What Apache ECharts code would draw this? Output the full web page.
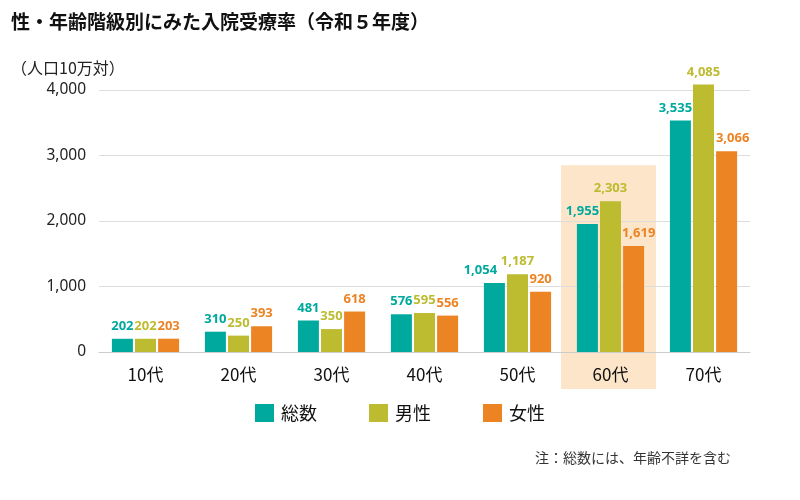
<!DOCTYPE html>
<html>
<head>
<meta charset="utf-8">
<script src="https://cdn.jsdelivr.net/npm/echarts@6/dist/echarts.min.js"></script>
<style>
  html, body { margin: 0; padding: 0; background: #fff; }
  #chart { width: 800px; height: 500px; }
</style>
</head>
<body>
<div id="chart"></div>
<script>
const categories = ['10代', '20代', '30代', '40代', '50代', '60代', '70代'];
const totalValues = [202, 310, 481, 576, 1054, 1955, 3535];
const maleValues = [202, 250, 350, 595, 1187, 2303, 4085];
const femaleValues = [203, 393, 618, 556, 920, 1619, 3066];
const yTicks = [0, 1000, 2000, 3000, 4000];
const highlightCategory = '60代';
const highlightTop = 2850;

const tealColor = '#00A99D';
const oliveColor = '#BDBB30';
const orangeColor = '#EC8424';
const jpFont = '"Noto Sans CJK JP", "Noto Sans", sans-serif';

// sideways nudges of crowded value labels (px), by category index
const labelShift = {
  '総数': { 4: -14, 5: -5, 6: -5 },
  '女性': { 5: 5, 6: 6 }
};

function fmt(v) {
  return v.toLocaleString('en-US');
}

function barSeries(name, data, color) {
  var shifts = labelShift[name] || {};
  var items = data.map(function (v, i) {
    if (shifts[i] === undefined) return v;
    return { value: v, label: { offset: [shifts[i], 0] } };
  });
  return {
    name: name,
    type: 'bar',
    data: items,
    barWidth: 21,
    barGap: '10%',
    clip: false,
    z: 3,
    itemStyle: { color: color },
    label: {
      show: true,
      position: 'top',
      distance: 6,
      color: color,
      fontFamily: '"Noto Sans", sans-serif',
      fontWeight: 'bold',
      fontSize: 13,
      formatter: function (p) { return fmt(p.value); }
    }
  };
}

var chart = echarts.init(document.getElementById('chart'));

var option = {
  animation: false,
  backgroundColor: '#fff',
  title: [
    {
      text: '性・年齢階級別にみた入院受療率（令和５年度）',
      left: 6,
      top: 7,
      textStyle: { fontFamily: jpFont, fontSize: 19, fontWeight: 'bold', color: '#111' }
    },
    {
      text: '（人口10万対）',
      left: 6,
      top: 55,
      textStyle: { fontFamily: jpFont, fontSize: 16, fontWeight: 'normal', color: '#222' }
    },
    {
      text: '注：総数には、年齢不詳を含む',
      right: 64,
      top: 446,
      textStyle: { fontFamily: jpFont, fontSize: 14, fontWeight: 'normal', color: '#333' }
    }
  ],
  legend: {
    data: ['総数', '男性', '女性'],
    top: 399,
    left: 'center',
    itemWidth: 19,
    itemHeight: 18,
    itemGap: 52,
    icon: 'rect',
    textStyle: { fontFamily: jpFont, fontSize: 18, color: '#111', padding: [0, 0, 0, 2] }
  },
  grid: {
    left: 99,
    right: 50,
    top: 90,
    bottom: 148,
    containLabel: false
  },
  xAxis: {
    type: 'category',
    data: categories,
    axisTick: { show: false },
    axisLine: { lineStyle: { color: '#cccccc', width: 1 } },
    axisLabel: {
      margin: 14,
      fontFamily: jpFont,
      fontSize: 17,
      color: '#111'
    }
  },
  yAxis: {
    type: 'value',
    min: yTicks[0],
    max: yTicks[yTicks.length - 1],
    interval: 1000,
    axisLine: { show: false },
    axisTick: { show: false },
    splitLine: { lineStyle: { color: '#dddddd', width: 1 } },
    axisLabel: {
      margin: 13,
      fontFamily: '"Noto Sans", sans-serif',
      fontSize: 15.5,
      color: '#222',
      formatter: function (v) { return fmt(v); }
    }
  },
  series: [
    barSeries('総数', totalValues, tealColor),
    barSeries('男性', maleValues, oliveColor),
    barSeries('女性', femaleValues, orangeColor)
  ]
};

chart.setOption(option);

// highlight band behind 60代, placed from the axis scales
var cx = chart.convertToPixel({ xAxisIndex: 0 }, highlightCategory);
var topY = chart.convertToPixel({ yAxisIndex: 0 }, highlightTop);
var baseY = chart.convertToPixel({ yAxisIndex: 0 }, 0);
var bandW = (800 - 99 - 50) / categories.length + 2;
chart.setOption({
  graphic: [{
    type: 'rect',
    z: -1,
    silent: true,
    shape: { x: cx - bandW / 2 - 2, y: topY, width: bandW, height: baseY - topY + 37 },
    style: { fill: '#FCE5C8' }
  }]
});
</script>
</body>
</html>
